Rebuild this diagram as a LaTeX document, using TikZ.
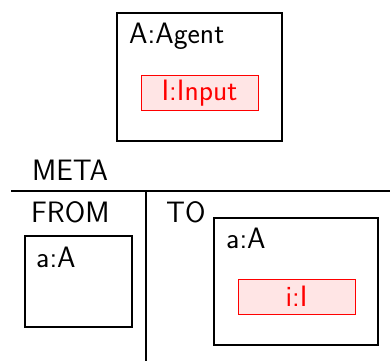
\documentclass[tikz,border=0pt]{standalone}
\begin{document}
\begin{tikzpicture}[x=1pt,y=-1pt,
  txt/.style={font=\fontsize{29.5}{34}\selectfont\sffamily, inner sep=0pt, anchor=base west},
  ctxt/.style={font=\fontsize{29.5}{34}\selectfont\sffamily, inner sep=0pt, anchor=base, text=red},
  blackbox/.style={draw=black, line width=1.6pt},
  redbox/.style={draw=red, fill=red!10, line width=1pt},
  sep/.style={draw=black, line width=1.5pt}]
\useasboundingbox (0,0) rectangle (390,361);
% top agent
\draw[blackbox] (117,13) rectangle (282,141);
\node[txt] (agent) at (129,44) {A:Agent};
\draw[redbox] (141,75) rectangle (258,110);
\node[ctxt] (input) at (199.5,100.5) {I:Input};
% META
\node[txt] (meta) at (32,180) {META};
\coordinate (hl) at (11,191);
\coordinate (hr) at (390,191);
\draw[sep] (hl) -- (hr);
\coordinate (vt) at (146,191);
\coordinate (vb) at (146,361);
\draw[sep] (vt) -- (vb);
\node[txt] (from) at (31,222) {FROM};
\node[txt] (to) at (166,222) {TO};
% FROM box
\draw[blackbox] (25,236) rectangle (132,327);
\node[txt] (fa) at (36,267) {a:A};
% TO box
\draw[blackbox] (214,218) rectangle (378,345);
\node[txt] (ta) at (226,248) {a:A};
\draw[redbox] (238,279) rectangle (355,314);
\node[ctxt] (ti) at (296.5,306) {i:I};
\end{tikzpicture}
\end{document}
